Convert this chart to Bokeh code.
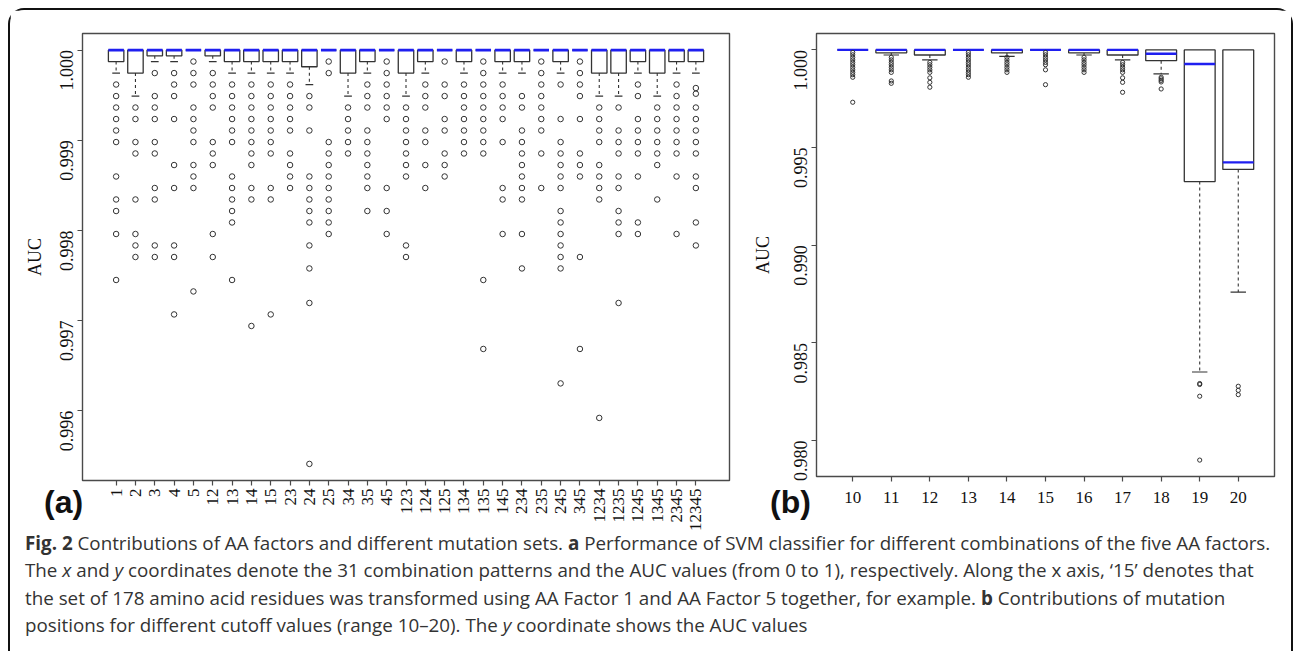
import math
from bokeh.plotting import figure
from bokeh.models import Range1d, FixedTicker, Div, ColumnDataSource, PrintfTickFormatter
from bokeh.layouts import row, column
from bokeh.transform import dodge
from bokeh.embed import file_html
from bokeh.resources import INLINE

# ---------------- Panel (a): AA factor combinations ----------------
a_categories = ["1", "2", "3", "4", "5", "12", "13", "14", "15", "23", "24", "25", "34", "35", "45",
                "123", "124", "125", "134", "135", "145", "234", "235", "245", "345",
                "1234", "1235", "1245", "1345", "2345", "12345"]
a_q1 = [0.999873, 0.999745, 0.999936, 0.999936, 1.0, 0.999936, 0.999873, 0.999873, 0.999873, 0.999873,
        0.999815, 1.0, 0.999745, 0.999873, 1.0, 0.999745, 0.999873, 1.0, 0.999873, 1.0,
        0.999873, 0.999873, 1.0, 0.999873, 1.0, 0.999745, 0.999745, 0.999873, 0.999745, 0.999873, 0.999873]
a_median = [1.0] * 31
a_q3 = [1.0] * 31
a_whisker_low = [0.999745, 0.999490, 0.999873, 0.999873, 1.0, 0.999873, 0.999745, 0.999745, 0.999745, 0.999745,
                 0.999618, 1.0, 0.999490, 0.999745, 1.0, 0.999490, 0.999745, 1.0, 0.999745, 1.0,
                 0.999745, 0.999745, 1.0, 0.999745, 1.0, 0.999490, 0.999490, 0.999745, 0.999490, 0.999745, 0.999745]
a_outliers = [
    [0.999618, 0.999490, 0.999363, 0.999235, 0.999108, 0.998980, 0.998598, 0.998343, 0.998215, 0.997960, 0.997450],
    [0.999363, 0.999235, 0.998980, 0.998853, 0.998343, 0.997960, 0.997833, 0.997705],
    [0.999745, 0.999490, 0.999363, 0.999235, 0.998980, 0.998853, 0.998470, 0.998343, 0.997833, 0.997705],
    [0.999745, 0.999618, 0.999490, 0.999235, 0.998725, 0.998470, 0.997833, 0.997705, 0.997068],
    [0.999873, 0.999745, 0.999618, 0.999363, 0.999235, 0.999108, 0.998980, 0.998725, 0.998598, 0.998470, 0.997323],
    [0.999745, 0.999618, 0.999490, 0.999363, 0.998980, 0.998853, 0.998725, 0.997960, 0.997705],
    [0.999618, 0.999490, 0.999363, 0.999235, 0.999108, 0.998980, 0.998598, 0.998470, 0.998343, 0.998215, 0.998088, 0.997450],
    [0.999618, 0.999490, 0.999363, 0.999235, 0.999108, 0.998980, 0.998853, 0.998725, 0.998470, 0.998343, 0.996940],
    [0.999618, 0.999490, 0.999363, 0.999235, 0.999108, 0.998980, 0.998853, 0.998470, 0.998343, 0.997068],
    [0.999618, 0.999490, 0.999363, 0.999235, 0.999108, 0.998853, 0.998725, 0.998598, 0.998470],
    [0.999490, 0.999363, 0.999108, 0.998598, 0.998470, 0.998343, 0.998215, 0.998088, 0.997833, 0.997578, 0.997195, 0.995410],
    [0.999873, 0.999745, 0.998980, 0.998853, 0.998725, 0.998598, 0.998470, 0.998343, 0.998215, 0.998088, 0.997960],
    [0.999363, 0.999235, 0.999108, 0.998980, 0.998853],
    [0.999618, 0.999490, 0.999363, 0.999108, 0.998980, 0.998853, 0.998725, 0.998598, 0.998470, 0.998215],
    [0.999873, 0.999745, 0.999618, 0.999490, 0.999363, 0.999235, 0.998470, 0.998215, 0.997960],
    [0.999363, 0.999235, 0.999108, 0.998980, 0.998853, 0.998725, 0.998598, 0.997833, 0.997705],
    [0.999618, 0.999490, 0.999363, 0.999108, 0.998980, 0.998725, 0.998470],
    [0.999873, 0.999618, 0.999490, 0.999235, 0.999108, 0.998853, 0.998725, 0.998598],
    [0.999618, 0.999490, 0.999363, 0.999235, 0.999108, 0.998980, 0.998853],
    [0.999873, 0.999745, 0.999618, 0.999490, 0.999363, 0.999235, 0.999108, 0.998980, 0.998853, 0.997450, 0.996685],
    [0.999618, 0.999490, 0.999363, 0.999235, 0.998980, 0.998470, 0.998343, 0.997960],
    [0.999490, 0.999363, 0.999108, 0.998980, 0.998853, 0.998725, 0.998598, 0.998470, 0.998343, 0.997960, 0.997578],
    [0.999873, 0.999745, 0.999618, 0.999490, 0.999363, 0.999235, 0.999108, 0.998853, 0.998470],
    [0.999618, 0.999235, 0.998980, 0.998853, 0.998725, 0.998598, 0.998470, 0.998215, 0.998088, 0.997960, 0.997833, 0.997705, 0.997578, 0.996303],
    [0.999873, 0.999745, 0.999618, 0.999490, 0.999235, 0.998853, 0.998725, 0.998598, 0.997705, 0.996685],
    [0.999363, 0.999235, 0.999108, 0.998980, 0.998725, 0.998598, 0.998470, 0.998343, 0.995920],
    [0.999363, 0.999108, 0.998980, 0.998853, 0.998598, 0.998470, 0.998215, 0.998088, 0.997960, 0.997195],
    [0.999618, 0.999490, 0.999235, 0.999108, 0.998980, 0.998853, 0.998598, 0.998088, 0.997960],
    [0.999363, 0.999235, 0.999108, 0.998980, 0.998853, 0.998725, 0.998343],
    [0.999618, 0.999490, 0.999363, 0.999235, 0.999108, 0.998980, 0.998853, 0.998598, 0.997960],
    [0.999579, 0.999516, 0.999363, 0.999235, 0.999108, 0.998980, 0.998853, 0.998598, 0.998470, 0.998088, 0.997833],
]
a_yticks = [0.996, 0.997, 0.998, 0.999, 1.000]

# ---------------- Panel (b): mutation position cutoffs ----------------
b_cutoffs = [10, 11, 12, 13, 14, 15, 16, 17, 18, 19, 20]
b_q1 = [1.0, 0.99985, 0.99974, 1.0, 0.99985, 1.0, 0.99985, 0.99974, 0.99945, 0.99326, 0.99388]
b_median = [1.0, 1.0, 1.0, 1.0, 1.0, 1.0, 1.0, 1.0, 0.99980, 0.99928, 0.99424]
b_q3 = [1.0, 1.0, 1.0, 1.0, 1.0, 1.0, 1.0, 1.0, 1.0, 1.0, 1.0]
b_whisker_low = [1.0, 0.99974, 0.99949, 1.0, 0.99967, 1.0, 0.99974, 0.99949, 0.99877, 0.98351, 0.98760]
b_outliers = [
    [0.99987, 0.99975, 0.99962, 0.99949, 0.99936, 0.99924, 0.99911, 0.99898, 0.99885, 0.99873, 0.99860, 0.99732],
    [0.99962, 0.99949, 0.99936, 0.99924, 0.99911, 0.99898, 0.99885, 0.99841, 0.99829],
    [0.99936, 0.99924, 0.99911, 0.99898, 0.99885, 0.99857, 0.99834, 0.99809],
    [0.99987, 0.99975, 0.99962, 0.99949, 0.99936, 0.99924, 0.99911, 0.99898, 0.99885, 0.99873, 0.99860],
    [0.99962, 0.99949, 0.99936, 0.99924, 0.99911, 0.99898, 0.99885],
    [0.99987, 0.99975, 0.99962, 0.99949, 0.99936, 0.99924, 0.99898, 0.99822],
    [0.99962, 0.99949, 0.99936, 0.99924, 0.99911, 0.99898, 0.99885],
    [0.99936, 0.99924, 0.99911, 0.99898, 0.99885, 0.99857, 0.99834, 0.99783],
    [0.99860, 0.99852, 0.99844, 0.99836, 0.99800],
    [0.98292, 0.98287, 0.98227, 0.97900],
    [0.98278, 0.98257, 0.98235],
]
b_yticks = [0.980, 0.985, 0.990, 0.995, 1.000]

panel_letters = ["(a)", "(b)"]

BOX_COLOR = "#333333"
MEDIAN_COLOR = "#1f1ff0"
FRAME_COLOR = "#4a4a4a"
SERIF = "Liberation Serif"


def style_axes(p):
    p.xgrid.visible = False
    p.ygrid.visible = False
    p.outline_line_color = FRAME_COLOR
    p.outline_line_width = 1.4
    p.background_fill_color = "white"
    p.border_fill_color = "white"
    for ax in (p.xaxis[0], p.yaxis[0]):
        ax.axis_line_color = None
        ax.major_tick_line_color = FRAME_COLOR
        ax.major_tick_line_width = 1.2
        ax.major_tick_out = 5
        ax.major_tick_in = 0
        ax.minor_tick_line_color = None
        ax.major_label_text_font = SERIF
        ax.major_label_text_color = "#111111"
        ax.axis_label_text_font = SERIF
        ax.axis_label_text_font_style = "normal"
        ax.axis_label_text_color = "#111111"
        ax.axis_label_text_font_size = "18px"


def draw_boxplot(p, xs, q1, med, q3, wlow, outs, box_w, cap_w, pt_size, med_w):
    src = ColumnDataSource(dict(x=xs, q1=q1, med=med, q3=q3, wl=wlow))
    p.segment(x0="x", y0="q1", x1="x", y1="wl", source=src, line_color=BOX_COLOR,
              line_width=1.1, line_dash="3 3")
    p.segment(x0=dodge("x", -cap_w / 2), y0="wl", x1=dodge("x", cap_w / 2), y1="wl", source=src,
              line_color=BOX_COLOR, line_width=1.2)
    p.vbar(x="x", width=box_w, top="q3", bottom="q1", source=src, fill_color="white",
           line_color=BOX_COLOR, line_width=1.3)
    p.segment(x0=dodge("x", -box_w / 2), y0="med", x1=dodge("x", box_w / 2), y1="med", source=src,
              line_color=MEDIAN_COLOR, line_width=med_w)
    ox, oy = [], []
    for x, vals in zip(xs, outs):
        for v in vals:
            ox.append(x)
            oy.append(v)
    p.scatter(ox, oy, marker="circle", size=pt_size, fill_color=None, line_color=BOX_COLOR, line_width=1.0)


# ---- panel a figure
a_x = [i + 1 for i in range(len(a_categories))]
pa = figure(frame_width=647, frame_height=447, min_border_left=72, min_border_right=8,
            min_border_top=21, min_border_bottom=52,
            x_range=Range1d(-0.74, 32.74), y_range=Range1d(0.995226, 1.000184),
            toolbar_location=None, output_backend="svg")
style_axes(pa)
draw_boxplot(pa, a_x, a_q1, a_median, a_q3, a_whisker_low, a_outliers, 0.8, 0.4, 5.5, 2.6)
pa.xaxis.ticker = FixedTicker(ticks=a_x)
pa.xaxis.major_label_overrides = {x: c for x, c in zip(a_x, a_categories)}
pa.xaxis.major_label_orientation = math.pi / 2
pa.xaxis.major_label_text_font_size = "17px"
pa.xaxis.major_label_standoff = 3
pa.yaxis.ticker = FixedTicker(ticks=a_yticks)
pa.yaxis.formatter = PrintfTickFormatter(format="%.3f")
pa.yaxis.major_label_orientation = math.pi / 2
pa.yaxis.major_label_text_font_size = "18px"
pa.yaxis.major_label_standoff = 11
pa.yaxis.axis_label = "AUC"
pa.yaxis.axis_label_standoff = 6

# ---- panel b figure
pb = figure(frame_width=458, frame_height=443, min_border_left=79, min_border_right=17,
            min_border_top=23, min_border_bottom=54,
            x_range=Range1d(9.06, 20.94), y_range=Range1d(0.97816, 1.00084),
            toolbar_location=None, output_backend="svg")
style_axes(pb)
draw_boxplot(pb, b_cutoffs, b_q1, b_median, b_q3, b_whisker_low, b_outliers, 0.8, 0.4, 4.2, 2.4)
pb.xaxis.ticker = FixedTicker(ticks=b_cutoffs)
pb.xaxis.major_label_text_font_size = "17px"
pb.xaxis.major_label_standoff = 10
pb.yaxis.ticker = FixedTicker(ticks=b_yticks)
pb.yaxis.formatter = PrintfTickFormatter(format="%.3f")
pb.yaxis.major_label_orientation = math.pi / 2
pb.yaxis.major_label_text_font_size = "18px"
pb.yaxis.major_label_standoff = 11
pb.yaxis.axis_label = "AUC"
pb.yaxis.axis_label_standoff = 12

# ---- caption (with the panel letters placed just above it, beside the x axes)
letter_style = ("position:absolute;top:-44px;font-family:'Liberation Sans';font-weight:bold;"
                "font-size:32px;line-height:32px;color:#111;")
caption_html = (
    "<div style=\"position:relative;font-family:'Open Sans';font-size:18.8px;line-height:27.3px;color:#333;"
    "padding-left:15px;padding-top:0px;margin-top:-2px;white-space:nowrap;overflow:visible;\">"
    f"<span style=\"{letter_style}left:34px;\">{panel_letters[0]}</span>"
    f"<span style=\"{letter_style}left:760px;\">{panel_letters[1]}</span>"
    "<b>Fig. 2</b> Contributions of AA factors and different mutation sets. <b>a</b> Performance of SVM "
    "classifier for different combinations of the five AA factors.<br>"
    "The <i>x</i> and <i>y</i> coordinates denote the 31 combination patterns and the AUC values (from 0 to 1), "
    "respectively. Along the x axis, \u201815\u2019 denotes that<br>"
    "the set of 178 amino acid residues was transformed using AA Factor 1 and AA Factor 5 together, for example. "
    "<b>b</b> Contributions of mutation<br>"
    "positions for different cutoff values (range 10\u201320). The <i>y</i> coordinate shows the AUC values"
    "</div>"
)
cap = Div(text=caption_html, width=1281, height=120, margin=0, styles={"overflow": "visible"})

layout = column(row(pa, pb), cap, margin=(8, 0, 0, 8),
                styles={"border-top": "2px solid #111", "border-left": "2px solid #111",
                        "border-right": "2px solid #111", "border-top-left-radius": "16px",
                        "border-top-right-radius": "16px", "background": "white"})

open("out.html", "w").write(file_html(layout, INLINE))
